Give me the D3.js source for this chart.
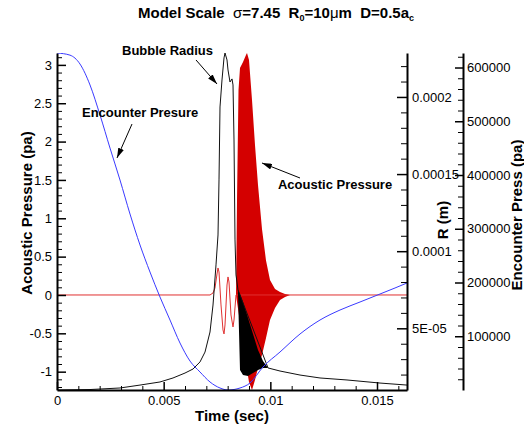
<!DOCTYPE html>
<html lang="en">
<head>
<meta charset="UTF-8">
<title>Model Scale – Bubble Radius / Acoustic Pressure</title>
<script src="https://d3js.org/d3.v7.min.js"></script>
<style>
  body { margin: 0; background: white; }
  svg { display: block; font-family: Arial, "Liberation Sans", sans-serif; }
  .axis .domain { stroke: #000; stroke-width: 2; }
  .axis .tick line { stroke: #000; stroke-width: 1.5; }
  .minor .tick line { stroke: #000; stroke-width: 1; }
  .minor .domain { display: none; }
  .axis text { font-size: 13px; fill: #000; }
  .lbl { font-size: 15px; font-weight: bold; }
  .note { font-size: 13px; font-weight: bold; }
</style>
</head>
<body>
<svg width="524" height="430"></svg>
<script>
// tick values
const timeTicks = [0, 0.005, 0.01, 0.015];
const pressTicks = [-1, -0.5, 0, 0.5, 1, 1.5, 2, 2.5, 3];
const radiusTicks = [5e-5, 1e-4, 1.5e-4, 2e-4];
const radiusLabels = ["5E-05", "0.0001", "0.00015", "0.0002"];
const encTicks = [100000, 200000, 300000, 400000, 500000, 600000];

// encounter pressure (pa), blue
const encT = [0, 0.000609, 0.001078, 0.001547, 0.002016, 0.002484, 0.002953, 0.003422, 0.003891,
  0.004359, 0.004828, 0.005297, 0.005766, 0.006234, 0.006703, 0.007172, 0.007641, 0.008016,
  0.008578, 0.009047, 0.009656, 0.010453, 0.011391, 0.012328, 0.013266, 0.014203, 0.015141,
  0.015844, 0.016406];
const encP = [627000, 623000, 606500, 567500, 511600, 450200, 390700, 327400, 269800,
  219500, 173000, 130200, 87400, 53900, 33500, 14900, 3700, 0,
  3700, 13000, 42800, 70700, 104200, 130200, 148800, 163700, 178600,
  189800, 199100];

// bubble radius (m), black
const radT = [0, 0.001547, 0.002953, 0.003891, 0.004828, 0.005438, 0.006, 0.006375, 0.006703,
  0.006938, 0.007172, 0.007313, 0.007453, 0.007547, 0.007594, 0.007641, 0.007734, 0.007828,
  0.007875, 0.007969, 0.008016, 0.008109, 0.008203, 0.00825, 0.008297, 0.008344, 0.008391,
  0.008484, 0.009891, 0.010453, 0.011391, 0.012328, 0.013594, 0.015141, 0.016406];
const radR = [1.0e-5, 1.03e-5, 1.13e-5, 1.32e-5, 1.52e-5, 1.78e-5, 2.10e-5, 2.36e-5, 2.82e-5,
  3.46e-5, 4.76e-5, 6.51e-5, 9.11e-5, 1.105e-4, 1.462e-4, 1.935e-4, 2.11e-4, 2.253e-4,
  2.285e-4, 2.24e-4, 2.175e-4, 2.097e-4, 2.117e-4, 2.078e-4, 1.721e-4, 1.073e-4, 8.46e-5,
  7.49e-5, 2.43e-5, 2.23e-5, 1.97e-5, 1.78e-5, 1.65e-5, 1.45e-5, 1.32e-5];
// fast oscillation band of the radius
const radBandT = [0.008484, 0.008578, 0.008719, 0.008953, 0.009188, 0.009422, 0.009656, 0.009891];
const radBandHi = [7.49e-5, 7.23e-5, 6.71e-5, 5.67e-5, 4.63e-5, 3.59e-5, 2.88e-5, 2.43e-5];
const radBandLo = [7.36e-5, 2.30e-5, 1.97e-5, 1.91e-5, 2.10e-5, 2.30e-5, 2.43e-5, 2.43e-5];

// acoustic pressure (pa), red
const acT = [0, 0.007172, 0.007313, 0.007406, 0.0075, 0.007547, 0.007594, 0.007688, 0.007781,
  0.007828, 0.007875, 0.007969, 0.008016, 0.008063, 0.008156, 0.00825, 0.008297, 0.008391,
  0.010922, 0.016406];
const acP = [0, 0, 0.026, 0.091, 0.274, 0.352, 0.30, -0.13, -0.456,
  -0.508, -0.391, 0.130, 0.235, 0.169, -0.261, -0.417, -0.326, 0,
  0, 0];
const acBandT = [0.008391, 0.008438, 0.008508, 0.008578, 0.008719, 0.008859, 0.008906, 0.009,
  0.009141, 0.009281, 0.009422, 0.009609, 0.009797, 0.009984, 0.010219, 0.010453, 0.010688, 0.010922];
const acBandHi = [0, 1.239, 2.673, 2.960, 3.038, 3.129, 3.155, 3.064,
  2.542, 1.956, 1.434, 0.860, 0.450, 0.196, 0.078, 0.039, 0.013, 0];
const acBandLo = [0, -0.091, -0.222, -0.352, -0.613, -0.874, -0.978, -1.134,
  -1.239, -1.108, -0.952, -0.782, -0.561, -0.326, -0.169, -0.065, -0.026, 0];

// callouts: [text, textT, textP, fromT, fromP, toT, toP] in time / acoustic pressure units
const notes = [
  ["Bubble Radius", 0.003047, 3.129, 0.006516, 3.064, 0.0075, 2.751],
  ["Encounter Presure", 0.001172, 2.321, 0.003516, 2.229, 0.002813, 1.786],
  ["Acoustic Pressure", 0.010359, 1.382, 0.011391, 1.525, 0.009609, 1.721]
];

const svg = d3.select("svg");
const plotL = 57, plotR = 407, plotT = 53, plotB = 390;

const x = d3.scaleLinear().domain([0, 0.016406]).range([plotL, plotR]);
const yP = d3.scaleLinear().domain([-1.239, 3.155]).range([plotB, plotT]);
const yR = d3.scaleLinear().domain([1e-5, 2.285e-4]).range([plotB, plotT]);
const yE = d3.scaleLinear().domain([0, 627000]).range([plotB, plotT]);

const defs = svg.append("defs");
defs.append("clipPath").attr("id", "plot")
  .append("rect").attr("x", plotL).attr("y", plotT).attr("width", plotR - plotL).attr("height", plotB - plotT);

const marker = defs.append("marker")
  .attr("id", "head").attr("viewBox", "0 0 10 6").attr("refX", 10).attr("refY", 3)
  .attr("markerWidth", 10).attr("markerHeight", 6).attr("markerUnits", "userSpaceOnUse")
  .attr("orient", "auto");
marker.append("path").attr("d", "M0,0 L10,3 L0,6 Z").attr("fill", "#000");

const plot = svg.append("g").attr("clip-path", "url(#plot)");

// acoustic pressure
plot.append("path")
  .datum(acBandT.map((t, i) => [t, acBandHi[i], acBandLo[i]]))
  .attr("fill", "#d40000")
  .attr("d", d3.area().x(d => x(d[0])).y0(d => yP(d[2])).y1(d => yP(d[1])));
plot.append("path")
  .datum(acT.map((t, i) => [t, acP[i]]))
  .attr("fill", "none").attr("stroke", "#e03030").attr("stroke-width", 1)
  .attr("d", d3.line().x(d => x(d[0])).y(d => yP(d[1])));

// bubble radius
plot.append("path")
  .datum(radBandT.map((t, i) => [t, radBandHi[i], radBandLo[i]]))
  .attr("fill", "#000")
  .attr("d", d3.area().x(d => x(d[0])).y0(d => yR(d[2])).y1(d => yR(d[1])));
plot.append("path")
  .datum(radT.map((t, i) => [t, radR[i]]))
  .attr("fill", "none").attr("stroke", "#111").attr("stroke-width", 1)
  .attr("d", d3.line().x(d => x(d[0])).y(d => yR(d[1])));

// encounter pressure
plot.append("path")
  .datum(encT.map((t, i) => [t, encP[i]]))
  .attr("fill", "none").attr("stroke", "#3a3aff").attr("stroke-width", 1)
  .attr("d", d3.line().curve(d3.curveMonotoneX).x(d => x(d[0])).y(d => yE(d[1])));

// axes
function minorAxis(axis, vals, size, tr) {
  svg.append("g").attr("class", "minor").attr("transform", tr)
    .call(axis.tickValues(vals).tickSize(size).tickSizeOuter(0).tickFormat(""));
}
const near = (v, list) => list.some(m => Math.abs(m - v) < 1e-9);

minorAxis(d3.axisBottom(x), d3.range(0, 0.0164, 0.001).filter(v => !near(v, timeTicks)), -4,
  `translate(0,${plotB})`);
minorAxis(d3.axisLeft(yP), d3.range(-1.2, 3.11, 0.1).filter(v => !near(v, pressTicks)), -5,
  `translate(${plotL},0)`);
minorAxis(d3.axisRight(yR), d3.range(1e-5, 2.25e-4, 1e-5).filter(v => !near(v, radiusTicks)), -6,
  `translate(${plotR},0)`);
minorAxis(d3.axisRight(yE), d3.range(20000, 627000, 20000).filter(v => !near(v, encTicks)), -5,
  `translate(463,0)`);

svg.append("g").attr("class", "axis").attr("transform", `translate(0,${plotB})`)
  .call(d3.axisBottom(x).tickValues(timeTicks).tickSize(-8).tickSizeOuter(0).tickPadding(6)
    .tickFormat(d => String(d)))
  .attr("font-size", null).attr("font-family", null);
svg.append("g").attr("class", "axis").attr("transform", `translate(${plotL},0)`)
  .call(d3.axisLeft(yP).tickValues(pressTicks).tickSize(-9).tickSizeOuter(0).tickPadding(5)
    .tickFormat(d => String(d)))
  .attr("font-size", null).attr("font-family", null);
svg.append("g").attr("class", "axis").attr("transform", `translate(${plotR},0)`)
  .call(d3.axisRight(yR).tickValues(radiusTicks).tickSize(-10).tickSizeOuter(0).tickPadding(5)
    .tickFormat((d, i) => radiusLabels[i]))
  .attr("font-size", null).attr("font-family", null);
svg.append("g").attr("class", "axis").attr("transform", `translate(463,0)`)
  .call(d3.axisRight(yE).tickValues(encTicks).tickSize(-8).tickSizeOuter(0).tickPadding(4)
    .tickFormat(d3.format("d")))
  .attr("font-size", null).attr("font-family", null);

// axis titles
svg.append("text").attr("class", "lbl").attr("text-anchor", "middle")
  .attr("x", 232).attr("y", 421).text("Time (sec)");
svg.append("text").attr("class", "lbl").attr("text-anchor", "middle")
  .attr("transform", "translate(32,213) rotate(-90)").text("Acoustic Pressure (pa)");
svg.append("text").attr("class", "lbl").attr("text-anchor", "middle")
  .attr("transform", "translate(448,220) rotate(-90)").text("R (m)");
svg.append("text").attr("class", "lbl").attr("text-anchor", "middle")
  .attr("transform", "translate(522,215) rotate(-90)").text("Encounter Press (pa)");

// title
const title = svg.append("text").attr("x", 138).attr("y", 18)
  .attr("font-size", 15).attr("font-weight", "bold").style("white-space", "pre");
title.append("tspan").text("Model Scale  ");
title.append("tspan").attr("font-weight", "normal").text("σ");
title.append("tspan").text("=7.45  R");
title.append("tspan").attr("font-size", 9).attr("dy", 3).text("0");
title.append("tspan").attr("dy", -3).text("=10");
title.append("tspan").attr("font-weight", "normal").text("μ");
title.append("tspan").text("m  D=0.5a");
title.append("tspan").attr("font-size", 9).attr("dy", 3).text("c");

// callouts
notes.forEach(n => {
  svg.append("text").attr("class", "note").attr("x", x(n[1])).attr("y", yP(n[2])).text(n[0]);
  svg.append("line")
    .attr("x1", x(n[3])).attr("y1", yP(n[4])).attr("x2", x(n[5])).attr("y2", yP(n[6]))
    .attr("stroke", "#000").attr("stroke-width", 1).attr("marker-end", "url(#head)");
});
</script>
</body>
</html>
